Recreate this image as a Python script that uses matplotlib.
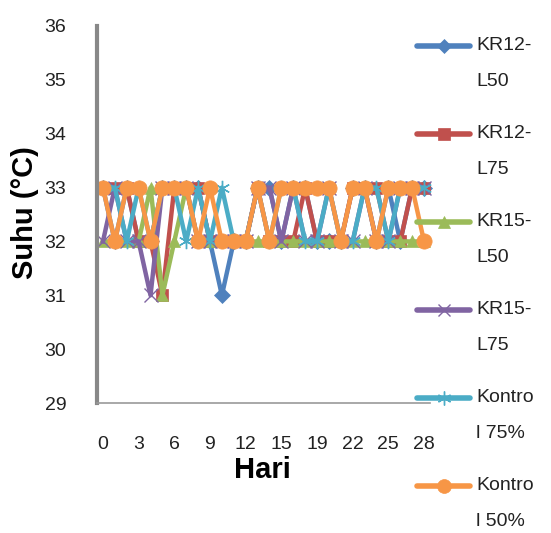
import matplotlib
matplotlib.use("Agg")
import matplotlib.pyplot as plt
from matplotlib.lines import Line2D
import numpy as np

plt.rcParams['font.family'] = ['Liberation Sans', 'DejaVu Sans']

# hari pengamatan (hari ke-16 tidak ada)
hari = [0, 1, 2, 3, 4, 5, 6, 7, 8, 9, 10, 11, 12, 13, 14, 15,
        17, 18, 19, 20, 21, 22, 23, 24, 25, 26, 27, 28]

kr12_l50 = [33, 32, 33, 32, 32, 33, 33, 33, 33, 32, 31, 32, 32, 33,
            33, 32, 33, 33, 32, 32, 32, 33, 33, 32, 33, 32, 33, 33]
kr12_l75 = [33, 33, 33, 32, 32, 31, 33, 33, 33, 32, 32, 32, 32, 33,
            32, 32, 32, 33, 32, 32, 32, 33, 33, 33, 32, 32, 33, 33]
kr15_l50 = [32, 32, 32, 32, 33, 31, 32, 33, 32, 32, 32, 32, 32, 32,
            32, 32, 32, 32, 32, 32, 32, 32, 32, 32, 32, 32, 32, 32]
kr15_l75 = [32, 33, 32, 32, 31, 33, 33, 33, 32, 32, 32, 32, 32, 33,
            33, 32, 33, 32, 32, 33, 32, 32, 33, 32, 32, 33, 33, 33]
kontrol_75 = [33, 33, 32, 33, 32, 33, 33, 32, 33, 32, 33, 32, 32, 33,
              32, 33, 33, 32, 32, 33, 32, 32, 33, 33, 32, 33, 33, 33]
kontrol_50 = [33, 32, 33, 33, 32, 33, 33, 33, 32, 33, 32, 32, 32, 33,
              32, 33, 33, 33, 33, 33, 32, 33, 33, 32, 33, 33, 33, 32]

series = [kr12_l50, kr12_l75, kr15_l50, kr15_l75, kontrol_75, kontrol_50]
labels = [("KR12-", "L50"), ("KR12-", "L75"), ("KR15-", "L50"),
          ("KR15-", "L75"), ("Kontro", "l 75%"), ("Kontro", "l 50%")]
colors = ['#4F81BD', '#C0504D', '#9BBB59', '#8064A2', '#4BACC6', '#F79646']
markers = ['D', 's', '^', 'x', (6, 2, 0), 'o']
msizes = [8, 9, 9, 10, 11, 11]

W, H = 551, 533
fig = plt.figure(figsize=(W / 100, H / 100), dpi=100)
ax = fig.add_axes([97 / W, 1 - 403 / H, (430 - 97) / W, (403 - 26) / H])

x = np.arange(len(hari))
for s, c, m, ms in zip(series, colors, markers, msizes):
    ax.plot(x, s, color=c, lw=3.2, marker=m, markersize=ms,
            markeredgewidth=1 if m in ('x', (6, 2, 0)) else 0.5,
            markeredgecolor=c, markerfacecolor=c, clip_on=False)

ax.set_xlim(-0.5, len(hari) - 0.5)
ax.set_ylim(29, 36)
ax.set_yticks(range(29, 37))
ax.set_xticks(x[::3])
ax.set_xticklabels([str(h) for h in hari[::3]])
ax.tick_params(length=0, labelsize=14, colors='#222222')
ax.tick_params(axis='y', pad=22)
ax.tick_params(axis='x', pad=24)

for sp in ['top', 'right']:
    ax.spines[sp].set_visible(False)
ax.spines['left'].set_color('#888888')
ax.spines['left'].set_linewidth(3)
ax.spines['bottom'].set_color('#999999')
ax.spines['bottom'].set_linewidth(1.2)

fig.text(25 / W, 1 - 213 / H, "Suhu (°C)", rotation=90, fontsize=21,
         fontweight='bold', ha='center', va='center')
fig.text(262 / W, 1 - 470 / H, "Hari", fontsize=21, fontweight='bold',
         ha='center', va='center')

# legenda manual ala Excel
for k, (lab, c, m, ms) in enumerate(zip(labels, colors, markers, msizes)):
    yk = 46 + 88 * k
    fy = 1 - yk / H
    fig.add_artist(Line2D([417 / W, 470 / W], [fy, fy], color=c, lw=4,
                          solid_capstyle='round'))
    fig.add_artist(Line2D([443.5 / W], [fy], color=c, marker=m,
                          markersize=ms - 1, markeredgecolor=c,
                          markeredgewidth=1 if m in ('x', (6, 2, 0)) else 0.5))
    fig.text(476 / W, fy, lab[0], fontsize=14, color='#222222', va='center')
    fig.text(476 / W, 1 - (yk + 35) / H, lab[1], fontsize=14,
             color='#222222', va='center')

fig.savefig("out.png", dpi=100)
